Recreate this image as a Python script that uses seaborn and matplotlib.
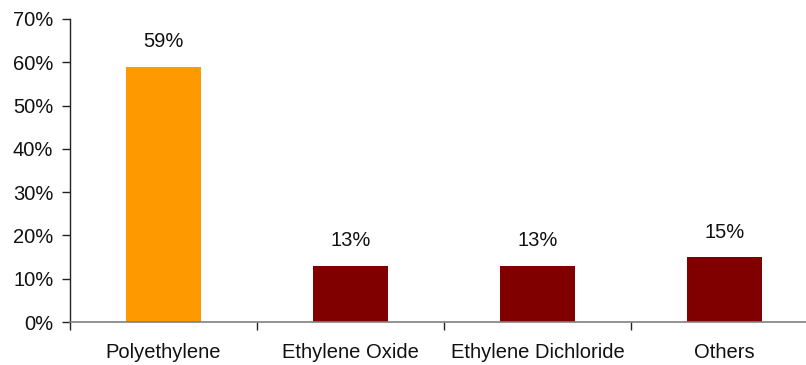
import matplotlib
matplotlib.use("Agg")
import matplotlib.pyplot as plt
from matplotlib.ticker import FixedLocator, PercentFormatter
import seaborn as sns
import pandas as pd

categories = ["Polyethylene", "Ethylene Oxide", "Ethylene Dichloride", "Others"]
shares = [59, 13, 13, 15]
bar_colors = ["#FF9900", "#800000", "#800000", "#800000"]

df = pd.DataFrame({"category": categories, "share": shares})

sns.set_theme(style="white")
plt.rcParams["font.family"] = ["Liberation Sans", "DejaVu Sans"]

FS = 14.5

fig = plt.figure(figsize=(8.06, 3.65), dpi=100)
ax = fig.add_axes([70 / 806, 43 / 365, 736 / 806, 303 / 365])

sns.barplot(data=df, x="category", y="share", hue="category",
            palette=bar_colors, legend=False, width=0.4, ax=ax,
            saturation=1, edgecolor="none")

ax.set_ylim(0, 70)
ax.set_xlim(-0.5, -0.5 + 736 / 187)
ax.yaxis.set_major_locator(FixedLocator(range(0, 71, 10)))
ax.yaxis.set_major_formatter(PercentFormatter(decimals=0))

for i, v in enumerate(shares):
    ax.annotate(f"{v}%", xy=(i, v), xytext=(0, 14), textcoords="offset points",
                ha="center", va="baseline", fontsize=FS, color="#111111")

# category boundaries carry tick marks; labels sit at bar centres
ax.set_xticks([i - 0.5 for i in range(len(categories))], minor=True)
ax.tick_params(axis="x", which="minor", length=6, width=1, color="#222222",
               direction="out", bottom=True)
ax.tick_params(axis="x", which="major", length=0, pad=15, labelsize=FS,
               labelcolor="#111111")
ax.tick_params(axis="y", which="major", length=6, width=1, color="#222222",
               direction="out", left=True, pad=6, labelsize=FS,
               labelcolor="#111111")

ax.set_xlabel("")
ax.set_ylabel("")
for side in ["top", "right"]:
    ax.spines[side].set_visible(False)
ax.spines["left"].set_color("#222222")
ax.spines["bottom"].set_color("#808080")
ax.spines["left"].set_linewidth(1)
ax.spines["bottom"].set_linewidth(1.2)

fig.savefig("out.png", dpi=100)
